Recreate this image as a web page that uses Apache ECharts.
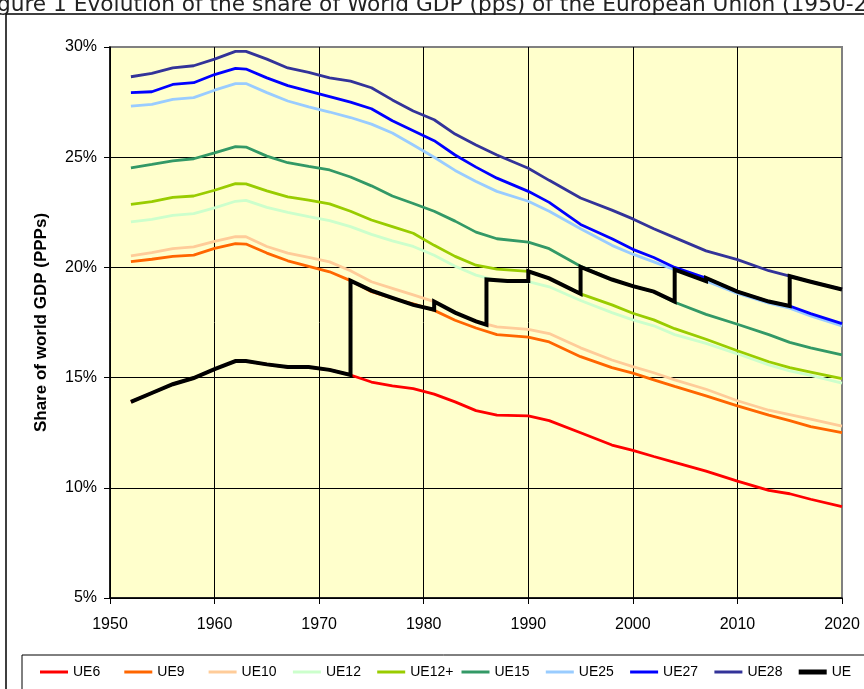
<!DOCTYPE html>
<html>
<head>
<meta charset="utf-8">
<script src="https://cdn.jsdelivr.net/npm/echarts@6/dist/echarts.min.js"></script>
<style>
html,body{margin:0;padding:0;background:#fff;}
#chart{width:864px;height:689px;}
</style>
</head>
<body>
<div id="chart"></div>
<script>
// Years for the enlargement-group series
const years = [1952,1954,1956,1958,1960,1962,1963,1965,1967,1969,1971,1973,1975,1977,1979,1981,1983,1985,1987,1990,1992,1995,1998,2000,2002,2004,2007,2010,2013,2015,2017,2020];

const ue6  = [13.9,14.3,14.7,14.98,15.38,15.75,15.75,15.6,15.48,15.48,15.35,15.12,14.8,14.62,14.5,14.25,13.9,13.5,13.3,13.26,13.05,12.5,11.94,11.7,11.42,11.15,10.76,10.3,9.88,9.73,9.48,9.15];
const ue9  = [20.26,20.37,20.5,20.56,20.86,21.08,21.06,20.65,20.3,20.05,19.8,19.4,18.9,18.6,18.35,18.05,17.6,17.25,16.95,16.84,16.62,15.95,15.45,15.2,14.9,14.6,14.17,13.72,13.3,13.05,12.78,12.5];
const ue10 = [20.52,20.67,20.85,20.93,21.18,21.4,21.39,20.95,20.65,20.45,20.25,19.85,19.35,19.05,18.75,18.45,17.95,17.55,17.3,17.19,17.0,16.35,15.8,15.5,15.22,14.9,14.47,13.95,13.52,13.32,13.12,12.8];
const ue12 = [22.07,22.18,22.36,22.44,22.7,23.0,23.04,22.72,22.5,22.3,22.12,21.85,21.5,21.2,20.95,20.55,20.05,19.65,19.4,19.35,19.12,18.5,17.95,17.62,17.35,16.95,16.55,16.08,15.58,15.3,15.1,14.75];
const ue12p= [22.86,22.98,23.18,23.24,23.5,23.8,23.79,23.47,23.2,23.05,22.88,22.55,22.15,21.85,21.55,21.0,20.5,20.1,19.92,19.82,19.5,18.8,18.3,17.92,17.62,17.22,16.74,16.22,15.72,15.45,15.25,14.95];
const ue15 = [24.52,24.67,24.83,24.93,25.2,25.48,25.46,25.05,24.75,24.58,24.42,24.1,23.7,23.24,22.9,22.55,22.1,21.6,21.3,21.15,20.85,20.05,19.45,19.15,18.9,18.42,17.87,17.42,16.95,16.6,16.35,16.03];
const ue25 = [27.32,27.4,27.62,27.7,28.04,28.34,28.34,27.93,27.55,27.28,27.05,26.8,26.5,26.1,25.55,25.0,24.4,23.9,23.45,23.0,22.55,21.75,21.0,20.6,20.25,19.9,19.38,18.82,18.38,18.15,17.8,17.35];
const ue27 = [27.93,27.97,28.3,28.38,28.75,29.03,29.0,28.6,28.25,28.0,27.75,27.5,27.2,26.65,26.2,25.75,25.1,24.55,24.05,23.45,22.95,21.95,21.3,20.82,20.45,20.0,19.52,18.9,18.45,18.25,17.9,17.45];
const ue28 = [28.65,28.8,29.05,29.15,29.45,29.8,29.8,29.45,29.05,28.85,28.6,28.45,28.15,27.6,27.1,26.7,26.05,25.55,25.1,24.5,23.95,23.15,22.6,22.2,21.75,21.35,20.75,20.35,19.85,19.6,19.35,19.0];

// Actual EU (with jumps at each enlargement)
const ueYears  = [1952,1954,1956,1958,1960,1962,1963,1965,1967,1969,1971,1973,1973,1975,1977,1979,1981,1981,1983,1985,1986,1986,1988,1990,1990,1992,1995,1995,1998,2000,2002,2004,2004,2007,2007,2010,2013,2015,2015,2017,2020];
const ueValues = [13.9,14.3,14.7,14.98,15.38,15.75,15.75,15.6,15.48,15.48,15.35,15.12,19.4,18.95,18.62,18.3,18.08,18.45,17.95,17.55,17.4,19.45,19.38,19.38,19.82,19.5,18.8,20.02,19.45,19.15,18.9,18.45,19.9,19.38,19.52,18.9,18.45,18.25,19.6,19.35,19.0];

const seriesNames = ['UE6','UE9','UE10','UE12','UE12+','UE15','UE25','UE27','UE28','UE'];
const seriesColors = ['#FF0000','#FF6600','#FFCC99','#CCFFCC','#99CC00','#339966','#99CCFF','#0000FF','#333399','#000000'];
const seriesValues = [ue6,ue9,ue10,ue12,ue12p,ue15,ue25,ue27,ue28];

const xTicks = [1950,2020,10];
const yTicks = [5,30,5];

const chart = echarts.init(document.getElementById('chart'));
const FONT = '"Liberation Sans", Arial, sans-serif';

const series = seriesValues.map((vals, i) => ({
  name: seriesNames[i],
  type: 'line',
  data: years.map((y, k) => [y, vals[k]]),
  symbol: 'none',
  smooth: false,
  lineStyle: { width: 2.8, color: seriesColors[i] },
  itemStyle: { color: seriesColors[i] },
  z: 2 + i * 0.1,
  animation: false
}));
series.push({
  name: 'UE',
  type: 'line',
  data: ueYears.map((y, k) => [y, ueValues[k]]),
  symbol: 'none',
  lineStyle: { width: 4, color: '#000', join: 'miter' },
  itemStyle: { color: '#000' },
  z: 4,
  animation: false
});

const legends = seriesNames.map((n, i) => ({
  data: [n],
  left: 40 + 84.3 * i,
  top: 665,
  padding: 0,
  icon: 'rect',
  itemWidth: 28,
  itemHeight: n === 'UE' ? 5 : 3,
  selectedMode: false,
  textStyle: { fontFamily: FONT, fontSize: 14, color: '#000' },
  z: 10
}));

chart.setOption({
  animation: false,
  backgroundColor: '#fff',
  graphic: [
    { type: 'rect', z: -10, shape: { x: 6, y: 14, width: 1000, height: 1000 }, style: { fill: '#fff', stroke: '#000', lineWidth: 1.5 } },
    { type: 'rect', z: 1, shape: { x: 22, y: 655, width: 1000, height: 100 }, style: { fill: '#fff', stroke: '#000', lineWidth: 1 } },
    { type: 'text', z: 1, x: -20, y: 16, style: { text: 'Figure 1 Evolution of the share of World GDP (pps) of the European Union (1950-2020)', fontFamily: '"DejaVu Sans", Verdana, sans-serif', fontSize: 21.7, fill: '#222', verticalAlign: 'bottom', align: 'left' } }
  ],
  legend: legends,
  grid: {
    left: 110, right: 22, top: 47, bottom: 91,
    show: true, backgroundColor: '#FFFFCC', borderColor: '#808080', borderWidth: 2
  },
  xAxis: {
    type: 'value', min: xTicks[0], max: xTicks[1], interval: xTicks[2],
    axisLine: { show: true, onZero: false, lineStyle: { color: '#000', width: 1.5 } },
    axisTick: { show: true, length: 6, lineStyle: { color: '#000' } },
    axisLabel: { formatter: v => String(v), fontFamily: FONT, fontSize: 16, color: '#000', margin: 19 },
    splitLine: { show: true, showMaxLine: false, lineStyle: { color: '#000', width: 1 } }
  },
  yAxis: {
    type: 'value', min: yTicks[0], max: yTicks[1], interval: yTicks[2],
    name: 'Share of world GDP (PPPs)', nameLocation: 'middle', nameGap: 60,
    nameTextStyle: { fontFamily: FONT, fontSize: 17, fontWeight: 'bold', color: '#000' },
    axisLine: { show: true, lineStyle: { color: '#000', width: 1.5 } },
    axisTick: { show: true, length: 6, lineStyle: { color: '#000' } },
    axisLabel: { formatter: v => v + '%', fontFamily: FONT, fontSize: 16, color: '#000', margin: 13 },
    splitLine: { show: true, showMaxLine: false, lineStyle: { color: '#000', width: 1 } }
  },
  series: series
});
</script>
</body>
</html>
